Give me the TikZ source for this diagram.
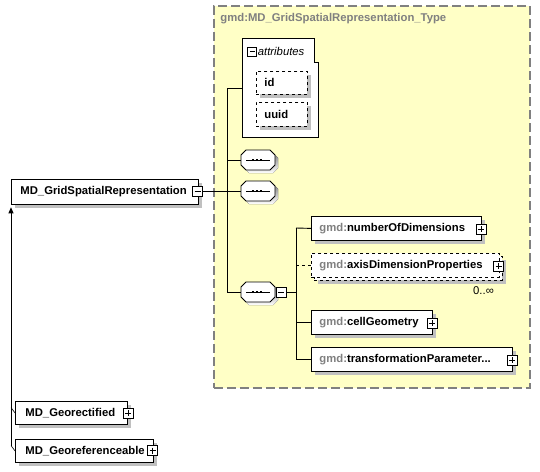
\documentclass[tikz,border=0pt]{standalone}
\usepackage{fontspec}
\setmainfont{Liberation Sans}
\usetikzlibrary{shadows,arrows.meta}
\definecolor{paleyel}{HTML}{FFFFC6}
\definecolor{framegray}{HTML}{808080}
\definecolor{shade}{HTML}{C0C0C0}
\definecolor{gmdgray}{HTML}{808080}
\newcommand{\gmdpre}{\textcolor{gmdgray}{gmd:}}
\newcommand{\dfont}{\fontsize{11.3}{13}\selectfont}
% sequence compositor: name, x, y (top-left)
\newcommand{\seqsym}[3]{%
  \begin{scope}[shift={(#2,#3)}]
    \fill[shade] (8,3) -- (32,3) -- (37,8) -- (37,18) -- (32,23) -- (8,23) -- (3,18) -- (3,8) -- cycle;
    \draw[fill=white, line width=0.9pt] (5,0) -- (29,0) -- (34,5) -- (34,15) -- (29,20) -- (5,20) -- (0,15) -- (0,5) -- cycle;
    \draw[line width=0.9pt] (5,10) -- (29,10);
    \foreach \cx in {12,16,20} {\fill (\cx-1.4,8.6) rectangle (\cx+1.4,11.4);}
    \node[minimum width=34pt, minimum height=20pt, inner sep=0pt, outer sep=0pt, anchor=north west] (#1) at (0,0) {};
  \end{scope}}
\begin{document}
\begin{tikzpicture}[x=1pt,y=-1pt,line width=0.8pt,
  every node/.style={font=\dfont},
  elem/.style={draw, fill=white, anchor=north west, inner ysep=0pt, align=left,
    minimum height=24pt, font=\dfont\bfseries,
    general shadow={fill=shade, shadow xshift=4pt, shadow yshift=-4pt},
    execute at begin node={\hyphenpenalty=10000 }},
  attrbox/.style={elem, dashed},
  pmbox/.style={draw, fill=white, minimum size=10pt, inner sep=0pt, line width=0.9pt,
    general shadow={fill=black, shadow xshift=0.8pt, shadow yshift=-0.8pt}},
  minusbox/.style={pmbox, path picture={\draw[line width=0.9pt]
    ([xshift=2pt]path picture bounding box.west) -- ([xshift=-2pt]path picture bounding box.east);}},
  plusbox/.style={pmbox, path picture={\draw[line width=0.9pt]
    ([xshift=2pt]path picture bounding box.west) -- ([xshift=-2pt]path picture bounding box.east)
    ([yshift=-2pt]path picture bounding box.north) -- ([yshift=2pt]path picture bounding box.south);}},
  conn/.style={line width=0.9pt}
]
\useasboundingbox (0,0) rectangle (540,471);

% complex type frame
\node[draw=framegray, fill=paleyel, dash pattern=on 9pt off 4pt, line width=1.5pt,
  minimum width=316pt, minimum height=382pt, anchor=north west, inner sep=0pt] (typebox) at (213,5) {};
\node[anchor=west, inner xsep=0pt, text=gmdgray, font=\dfont\bfseries] (title) at (220,19) {gmd:MD\_GridSpatialRepresentation\_Type};

% attributes group
\node[minimum width=76pt, minimum height=99pt, inner sep=0pt, anchor=north west] (attr) at (242,38) {};
\draw[fill=white] (attr.north west) -- ([xshift=-4pt]attr.north east) -- ([xshift=-4pt,yshift=-24pt]attr.north east)
  -- ([yshift=-24pt]attr.north east) -- (attr.south east) -- (attr.south west) -- cycle;
\node[minusbox, minimum size=9pt] (am) at (252,51.5) {};
\node[anchor=west, inner xsep=0pt, font=\dfont\itshape] (attrlbl) at (257.5,51.5) {attributes};
\node[attrbox, inner xsep=8pt, text width=35pt, minimum height=23pt] (idb) at (256,71) {id};
\node[attrbox, inner xsep=8pt, text width=35pt, minimum height=24pt] (uuidb) at (256,102) {uuid};

% sequences
\seqsym{s1}{241}{150}
\seqsym{s2}{241}{181}
\seqsym{s3}{241}{282}
\node[minusbox] (s3m) at (281,292.5) {};

% main element
\node[elem, inner xsep=9pt, text width=169pt, minimum height=25pt] (main) at (11,178.5) {MD\_GridSpatialRepresentation};
\node[minusbox] (mainm) at (197.5,191) {};

% children
\node[elem, inner xsep=8pt, text width=154pt] (e1) at (311,216) {\gmdpre numberOfDimensions};
\node[plusbox] (e1p) at (481,229) {};

\node[elem, dashed, inner xsep=8pt, text width=172pt, minimum height=24pt] (e2b) at (314,256) {\phantom{x}};
\node[draw, dashed, fill=white, anchor=north west, inner ysep=0pt, inner xsep=8pt, align=left,
  minimum height=24pt, text width=172pt, font=\dfont\bfseries] (e2) at (311,253) {\gmdpre axisDimensionProperties};
\node[plusbox] (e2p) at (498.5,266) {};
\node[font=\dfont] (mult) at (483.5,291) {0..∞};

\node[elem, inner xsep=8pt, text width=105pt] (e3) at (311,310) {\gmdpre cellGeometry};
\node[plusbox] (e3p) at (432,323) {};

\node[elem, inner xsep=8pt, text width=185pt] (e4) at (311,347) {\gmdpre transformationParameter...};
\node[plusbox] (e4p) at (512,360) {};

% derived types
\node[elem, inner xsep=10pt, text width=92pt, minimum height=23pt] (g1) at (15,401) {MD\_Georectified};
\node[plusbox] (g1p) at (128,413) {};
\node[elem, inner xsep=10pt, text width=118pt, minimum height=23pt] (g2) at (15,439) {MD\_Georeferenceable};
\node[plusbox] (g2p) at (152.5,450.5) {};

% connectors
\coordinate (bA) at (227,88);
\coordinate (bB) at (227,292);
\draw[conn] (bA) -- (bB);
\draw[conn] (bA) -- (bA -| attr.west);
\draw[conn] (s1.west -| bA) -- (s1.west);
\draw[conn] (mainm.east) -- (s2.west);
\draw[conn] (s3.west -| bA) -- (s3.west);

\coordinate (cA) at (296,228);
\coordinate (cB) at (296,359);
\draw[conn] (s3m.east) -- (s3m.east -| cA);
\draw[conn] (cA) -- (cB);
\draw[conn] (cA) -- (e1.west);
\draw[conn, dashed] (e2.west -| cA) -- (e2.west);
\draw[conn] (e3.west -| cA) -- (e3.west);
\draw[conn] (cB) -- (cB -| e4.west);

% inheritance
\coordinate (k1) at (11,407.5);
\coordinate (k2) at (11,445.5);
\draw[conn, -{Triangle[length=6pt,width=5pt]}, shorten >=3pt] (k2) -- (main.south west);
\draw[line width=0.6pt] (k1) -- (g1.west);
\draw[line width=0.6pt] (k2) -- (g2.west);
\end{tikzpicture}
\end{document}
